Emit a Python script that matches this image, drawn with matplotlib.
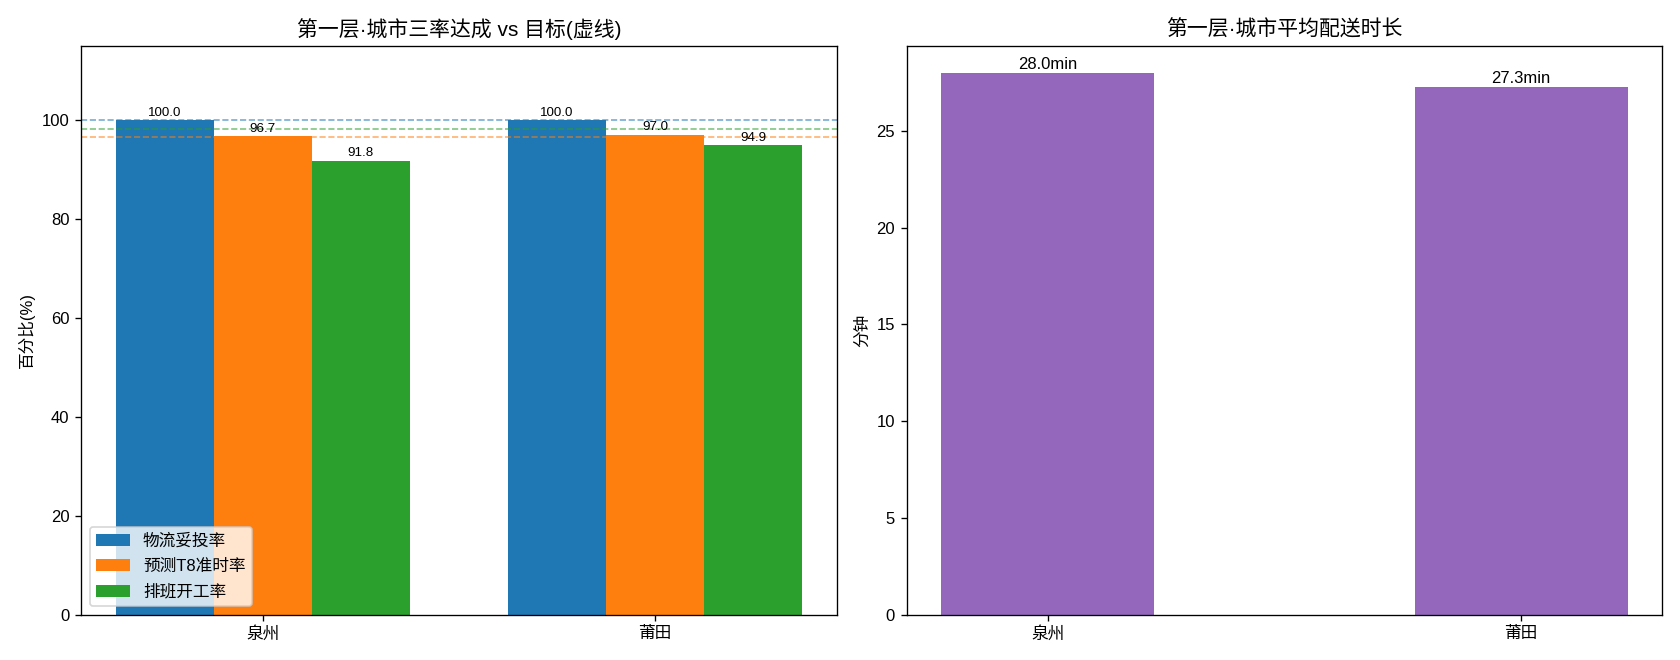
import matplotlib
matplotlib.use("Agg")
import matplotlib.pyplot as plt
import numpy as np

plt.rcParams['font.family'] = ['Liberation Sans', 'Noto Sans CJK SC', 'DejaVu Sans']
plt.rcParams['axes.unicode_minus'] = False

cities = ["泉州", "莆田"]
rate_names = ["物流妥投率", "预测T8准时率", "排班开工率"]
delivery_rate = [100.0, 100.0]
t8_ontime_rate = [96.7, 97.0]
shift_rate = [91.8, 94.9]
targets = [100.0, 96.5, 98.2]
avg_minutes = [28.0, 27.3]

colors = ['#1f77b4', '#ff7f0e', '#2ca02c']

fig, (ax1, ax2) = plt.subplots(1, 2, figsize=(14, 5.5), dpi=120)

x = np.arange(len(cities))
w = 0.25
series = [delivery_rate, t8_ontime_rate, shift_rate]
for i, vals in enumerate(series):
    bars = ax1.bar(x + (i - 1) * w, vals, w, color=colors[i], label=rate_names[i])
    for b, v in zip(bars, vals):
        ax1.text(b.get_x() + b.get_width() / 2, v + 0.3, '%.1f' % v,
                 ha='center', va='bottom', fontsize=8)
    ax1.axhline(targets[i], color=colors[i], linestyle='--', linewidth=1, alpha=0.6)

ax1.set_xticks(x)
ax1.set_xticklabels(cities)
ax1.set_ylim(0, 115)
ax1.set_ylabel("百分比(%)")
ax1.set_title("第一层·城市三率达成 vs 目标(虚线)", fontsize=12.5)
ax1.legend(loc='lower left', labelspacing=0.6)

bars2 = ax2.bar(x, avg_minutes, 0.45, color='#9467bd')
for b, v in zip(bars2, avg_minutes):
    ax2.text(b.get_x() + b.get_width() / 2, v + 0.05, '%.1fmin' % v,
             ha='center', va='bottom', fontsize=10)
ax2.set_xticks(x)
ax2.set_xticklabels(cities)
ax2.set_ylim(0, max(avg_minutes) * 1.05)
ax2.set_ylabel("分钟")
ax2.set_title("第一层·城市平均配送时长", fontsize=12.5)

plt.tight_layout()
plt.savefig("out.png")
